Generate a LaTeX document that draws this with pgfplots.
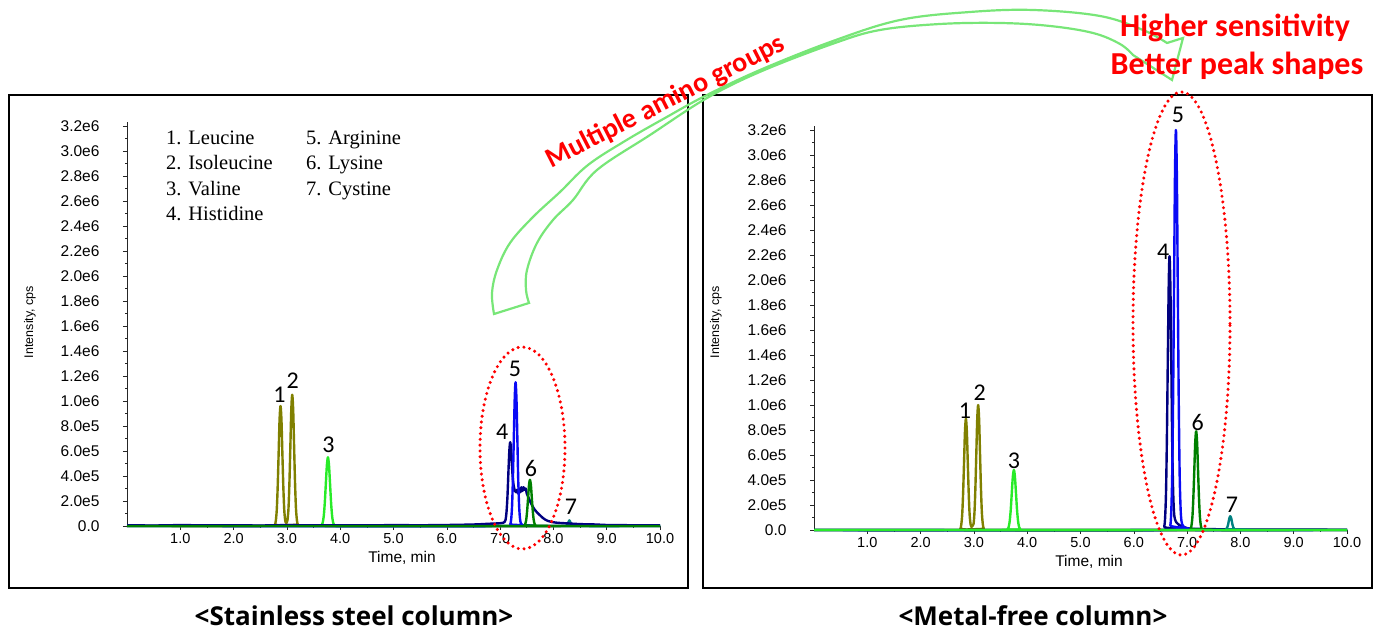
\documentclass[border=0pt]{standalone}
\usepackage{fontspec}
\setmainfont{Liberation Sans}
\newfontfamily\seriff{Liberation Serif}
\newfontfamily\calib{Carlito}
\newfontfamily\opens{Open Sans}
\usepackage{pgfplots}
\pgfplotsset{compat=1.18}
\definecolor{olivec}{RGB}{128,128,0}
\definecolor{limec}{RGB}{40,235,40}
\definecolor{navyc}{RGB}{0,0,128}
\definecolor{bluec}{RGB}{10,10,245}
\definecolor{greenc}{RGB}{0,128,0}
\definecolor{tealc}{RGB}{0,128,128}
\definecolor{arrowg}{RGB}{120,230,120}
\tikzset{num/.style={font=\calib\fontsize{24}{26}\selectfont, inner sep=0pt}}
\pgfplotsset{chrom/.style={
  scale only axis, width=533pt, height=404pt,
  xmin=0, xmax=10, ymin=0, ymax=3.232,
  axis x line=bottom, axis y line=left,
  axis line style={-, black!85, line width=0.8pt},
  xtick={1,2,3,4,5,6,7,8,9,10},
  xticklabels={1.0,2.0,3.0,4.0,5.0,6.0,7.0,8.0,9.0,10.0},
  minor x tick num=1,
  ytick={0,0.2,0.4,0.6,0.8,1.0,1.2,1.4,1.6,1.8,2.0,2.2,2.4,2.6,2.8,3.0,3.2},
  yticklabels={0.0,2.0e5,4.0e5,6.0e5,8.0e5,1.0e6,1.2e6,1.4e6,1.6e6,1.8e6,2.0e6,2.2e6,2.4e6,2.6e6,2.8e6,3.0e6,3.2e6},
  minor y tick num=1,
  tick align=outside, major tick length=4pt, minor tick length=2pt,
  tick style={black!85, line width=0.6pt},
  xticklabel style={font=\fontsize{14.5}{16}\selectfont},
  yticklabel style={font=\fontsize{15.5}{17}\selectfont, xshift=-20pt},
  clip=false,
  every axis plot/.append style={line width=2.4pt, smooth, tension=0.5, mark=none, line join=round}
}}
\begin{document}
\begin{tikzpicture}[x=1pt,y=1pt]
\useasboundingbox (0,0) rectangle (1376,631);
% panel frames
\draw[line width=2pt] (9,43) rectangle (688,536);
\draw[line width=2pt] (703,43) rectangle (1372,536);

% ---------------- Stainless steel column (intensity in units of 1e6 cps)
\begin{axis}[chrom, at={(127pt,105pt)}, anchor=south west]
\addplot[olivec] coordinates {(0,0)(2.74,0)(2.775,0.011)(2.792,0.042)(2.81,0.13)(2.827,0.312)(2.845,0.582)(2.862,0.847)(2.88,0.96)(2.898,0.847)(2.915,0.582)(2.933,0.312)(2.95,0.132)(2.968,0.045)(2.985,0.025)(3.0,0.03)(3.012,0.05)(3.03,0.142)(3.047,0.341)(3.065,0.637)(3.082,0.927)(3.1,1.05)(3.118,0.927)(3.135,0.637)(3.153,0.341)(3.17,0.142)(3.188,0.046)(3.205,0.012)(3.24,0)(10,0)};
\addplot[limec] coordinates {(0,0)(3.61,0)(3.65,0.006)(3.67,0.024)(3.69,0.074)(3.71,0.179)(3.73,0.334)(3.75,0.485)(3.77,0.55)(3.79,0.485)(3.81,0.334)(3.83,0.179)(3.85,0.074)(3.87,0.024)(3.89,0.006)(3.93,0)(10,0)};
\addplot[tealc] coordinates {(0,0)(8.2,0)(8.25,0.008)(8.28,0.028)(8.3,0.045)(8.32,0.028)(8.35,0.008)(8.4,0)(10,0)};
\addplot[navyc] coordinates {(0,0.006)(0.5,0.004)(1,0.007)(1.5,0.005)(2,0.006)(2.5,0.004)(3,0.007)(3.5,0.005)(4,0.006)(4.5,0.005)(5,0.007)(5.5,0.006)(6,0.008)(6.5,0.012)(6.8,0.018)(7.0,0.022)(7.06,0.026)(7.085,0.033)(7.103,0.05)(7.12,0.11)(7.138,0.235)(7.155,0.42)(7.173,0.6)(7.19,0.67)(7.208,0.6)(7.225,0.46)(7.243,0.36)(7.26,0.31)(7.28,0.28)(7.3,0.27)(7.32,0.29)(7.34,0.26)(7.36,0.3)(7.38,0.27)(7.4,0.31)(7.42,0.28)(7.44,0.31)(7.46,0.29)(7.48,0.3)(7.5,0.26)(7.53,0.23)(7.56,0.2)(7.6,0.165)(7.65,0.13)(7.7,0.105)(7.75,0.085)(7.8,0.065)(7.85,0.05)(7.9,0.04)(8,0.03)(8.1,0.025)(8.3,0.02)(8.5,0.015)(8.8,0.012)(9,0.008)(9.5,0.006)(10,0.005)};
\addplot[bluec] coordinates {(0,0)(7.16,0)(7.19,0.013)(7.207,0.05)(7.224,0.156)(7.24,0.373)(7.257,0.697)(7.274,1.015)(7.29,1.15)(7.307,1.015)(7.324,0.697)(7.34,0.373)(7.357,0.16)(7.373,0.06)(7.39,0.022)(7.42,0.006)(7.46,0)(10,0)};
\addplot[greenc] coordinates {(0,0)(7.42,0)(7.455,0.004)(7.472,0.016)(7.49,0.05)(7.507,0.12)(7.525,0.224)(7.542,0.327)(7.56,0.37)(7.578,0.327)(7.595,0.224)(7.613,0.12)(7.63,0.05)(7.648,0.016)(7.665,0.004)(7.7,0)(10,0)};
\node[num] at (axis cs:2.86,1.048) {1};
\node[num] at (axis cs:3.11,1.16) {2};
\node[num] at (axis cs:3.78,0.65) {3};
\node[num] at (axis cs:7.04,0.75) {4};
\node[num] at (axis cs:7.28,1.256) {5};
\node[num] at (axis cs:7.58,0.457) {6};
\node[num] at (axis cs:8.33,0.155) {7};
\end{axis}

% ---------------- Metal-free column
\begin{axis}[chrom, at={(814pt,101pt)}, anchor=south west]
\addplot[olivec] coordinates {(0,0)(2.71,0)(2.745,0.01)(2.762,0.039)(2.78,0.12)(2.797,0.289)(2.815,0.54)(2.832,0.785)(2.85,0.89)(2.868,0.785)(2.885,0.54)(2.903,0.289)(2.92,0.122)(2.938,0.045)(2.955,0.025)(2.97,0.03)(2.992,0.046)(3.01,0.135)(3.027,0.325)(3.045,0.607)(3.062,0.883)(3.08,1.0)(3.098,0.883)(3.115,0.607)(3.133,0.325)(3.15,0.135)(3.168,0.044)(3.185,0.011)(3.22,0)(10,0)};
\addplot[navyc] coordinates {(0,0)(6.54,0)(6.57,0.024)(6.587,0.096)(6.604,0.296)(6.62,0.711)(6.637,1.328)(6.654,1.933)(6.67,2.19)(6.687,1.933)(6.704,1.328)(6.72,0.711)(6.737,0.33)(6.753,0.15)(6.77,0.09)(6.8,0.06)(6.85,0.04)(6.9,0.03)(6.95,0.022)(7.0,0.015)(7.1,0.01)(7.3,0.008)(7.6,0.006)(8,0.004)(9,0.003)(10,0.002)};
\addplot[bluec] coordinates {(0,0)(6.65,0)(6.685,0.036)(6.702,0.14)(6.72,0.433)(6.737,1.039)(6.755,1.941)(6.772,2.824)(6.79,3.2)(6.808,2.824)(6.825,1.941)(6.843,1.039)(6.86,0.45)(6.878,0.17)(6.895,0.07)(6.92,0.035)(6.96,0.015)(7.0,0)(10,0)};
\addplot[greenc] coordinates {(0,0)(7.03,0)(7.065,0.009)(7.082,0.035)(7.1,0.107)(7.117,0.257)(7.135,0.479)(7.152,0.697)(7.17,0.79)(7.188,0.697)(7.205,0.479)(7.223,0.257)(7.24,0.107)(7.258,0.035)(7.275,0.009)(7.31,0)(10,0)};
\addplot[tealc] coordinates {(0,0)(7.7,0)(7.73,0.006)(7.75,0.018)(7.77,0.045)(7.79,0.09)(7.81,0.11)(7.83,0.09)(7.85,0.045)(7.87,0.018)(7.89,0.006)(7.92,0)(10,0)};
\addplot[limec] coordinates {(0,0)(3.59,0)(3.63,0.005)(3.65,0.021)(3.67,0.065)(3.69,0.156)(3.71,0.291)(3.73,0.424)(3.75,0.48)(3.77,0.424)(3.79,0.291)(3.81,0.156)(3.83,0.065)(3.85,0.021)(3.87,0.005)(3.91,0)(10,0)};
\node[num] at (axis cs:2.83,0.95) {1};
\node[num] at (axis cs:3.11,1.096) {2};
\node[num] at (axis cs:3.75,0.554) {3};
\node[num] at (axis cs:6.55,2.226) {4};
\node[num] at (axis cs:6.83,3.32) {5};
\node[num] at (axis cs:7.20,0.858) {6};
\node[num] at (axis cs:7.84,0.2) {7};
\end{axis}

% axis titles
\node[font=\fontsize{15.5}{17}\selectfont] at (402,73) {Time, min};
\node[font=\fontsize{15.5}{17}\selectfont] at (1089,69.5) {Time, min};
\node[font=\fontsize{12.5}{14}\selectfont, rotate=90] at (30,309) {Intensity, cps};
\node[font=\fontsize{12.5}{14}\selectfont, rotate=90] at (716,309) {Intensity, cps};

% compound list
\begin{scope}[every node/.style={font=\seriff\fontsize{20.5}{23}\selectfont, anchor=base west, inner sep=0pt}]
\node at (166,486.5) {1. Leucine};
\node at (166,461) {2. Isoleucine};
\node at (166,435.2) {3. Valine};
\node at (166,410) {4. Histidine};
\node at (306,486.5) {5. Arginine};
\node at (306,461) {6. Lysine};
\node at (306,435.2) {7. Cystine};
\end{scope}

% dotted ellipses
\draw[red, line width=3.4pt, dash pattern=on 0pt off 5.8pt, line cap=round] (522.5,183) ellipse [x radius=42.5pt, y radius=101pt];
\draw[red, line width=3.4pt, dash pattern=on 0pt off 5.8pt, line cap=round] (1181.5,307.5) ellipse [x radius=48.5pt, y radius=231.5pt];

% hollow curved arrow
\draw[arrowg, line width=2.2pt, line join=miter]
  plot[smooth, tension=0.6] coordinates {(494,317)(492,338)(497,361)(510,388)(533,414)(560,439)(588,466)(625,490)(665,513)(705,535)(760,561)(833,590)(900,611)(970,619)(1033,621)(1100,615)(1143,601)(1167,588)}
  -- (1183,593) -- (1172,551) -- (1133,576)
  -- plot[smooth, tension=0.6] coordinates {(1133,576)(1120,587)(1093,598)(1050,605)(1000,608)(940,607)(880,601)(835,588)(762,560)(707,533)(650,496)(597,461)(573,431)(553,411)(537,388)(527,361)(526,341)(529,328)}
  -- cycle;

% red annotations
\node[red, font=\calib\bfseries\fontsize{28}{32}\selectfont, rotate=27, anchor=base, inner sep=0pt] at (669,522) {Multiple amino groups};
\node[red, font=\calib\bfseries\fontsize{32}{36}\selectfont] at (1235,603) {Higher sensitivity};
\node[red, font=\calib\bfseries\fontsize{32}{36}\selectfont] at (1237,565) {Better peak shapes};

% panel titles
\node[font=\opens\bfseries\fontsize{26}{30}\selectfont] at (354,15) {<Stainless steel column>};
\node[font=\opens\bfseries\fontsize{26}{30}\selectfont] at (1033,15) {<Metal-free column>};
\end{tikzpicture}
\end{document}
